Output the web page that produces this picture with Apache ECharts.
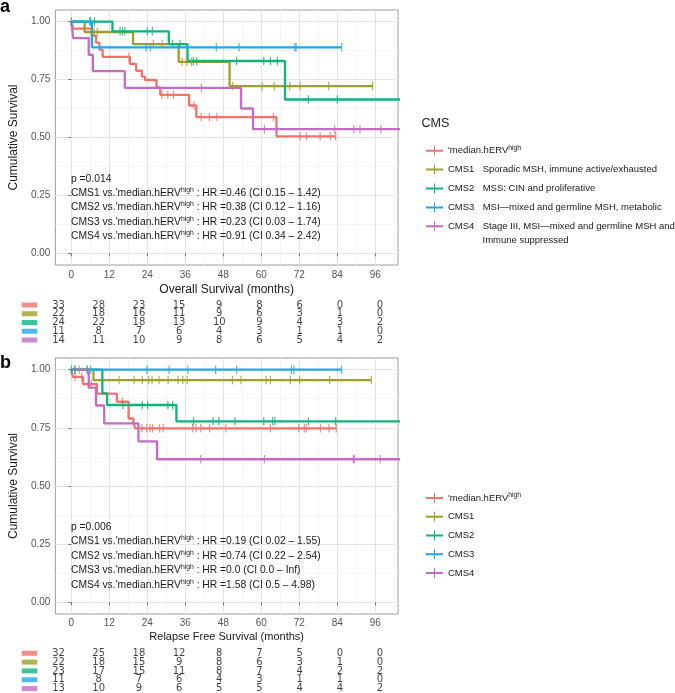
<!DOCTYPE html>
<html><head><meta charset="utf-8">
<script src="https://cdn.jsdelivr.net/npm/echarts@6/dist/echarts.min.js"></script>
<style>html,body{margin:0;padding:0;background:#fff}#c{width:675px;height:693px}</style>
</head><body><div id="c"></div>
<script>
const groups = ['median', 'CMS1', 'CMS2', 'CMS3', 'CMS4'];
const colors = ['#F0736C', '#A0A024', '#10B47A', '#22A8E6', '#C36CC3'];
const descriptions = ['', 'Sporadic MSH, immune active/exhausted', 'MSS: CIN and proliferative',
  'MSI\u2014mixed and germline MSH, metabolic', 'Stage III, MSI\u2014mixed and germline MSH and'];
const xTicks = [0, 12, 24, 36, 48, 60, 72, 84, 96];
const xMinor = [6, 18, 30, 42, 54, 66, 78, 90, 102];
const yTicks = [0, 0.25, 0.5, 0.75, 1];
const yMinor = [0.125, 0.375, 0.625, 0.875];

// Overall survival (a): step times, survival, censor times
const osMedianT = [0, 0.6, 6.5, 7.8, 8.9, 9.9, 18.5, 20.5, 22.3, 23.3, 26.9, 28.1, 37.2, 39.5, 64.8, 83.5];
const osMedianS = [1, 0.970, 0.939, 0.909, 0.879, 0.848, 0.818, 0.788, 0.763, 0.748, 0.716, 0.684, 0.638, 0.588, 0.505, 0.505];
const osMedianC = [18.2, 28.6, 30.5, 32.3, 38.8, 41.0, 43.6, 46.0, 63.8, 72.3, 74.3, 78.6, 81.8, 83.5];
const osCMS1T = [0, 4.2, 19.5, 33.9, 50.0, 95.2];
const osCMS1S = [1, 0.955, 0.903, 0.826, 0.722, 0.722];
const osCMS1C = [6.5, 7.2, 8.2, 25.9, 28.7, 35.0, 36.5, 38.0, 51.0, 60.3, 64.1, 69.0, 72.3, 81.3, 95.2];
const osCMS2T = [0, 13.0, 30.8, 36.7, 67.5, 106];
const osCMS2S = [1, 0.958, 0.903, 0.830, 0.664, 0.664];
const osCMS2C = [0, 7.3, 15.4, 16.1, 16.9, 24.0, 25.6, 32.0, 34.3, 38.6, 39.6, 52.2, 60.8, 62.9, 65.1, 74.9, 84.0];
const osCMS3T = [0, 6.5, 85.4];
const osCMS3S = [1, 0.889, 0.889];
const osCMS3C = [5.8, 6.1, 23.6, 25.0, 45.8, 53.0, 70.6, 71.0, 85.4];
const osCMS4T = [0, 0.6, 5.5, 6.8, 16.9, 53.6, 57.4, 106];
const osCMS4S = [1, 0.929, 0.857, 0.786, 0.714, 0.625, 0.536, 0.536];
const osCMS4C = [41.1, 61.0, 83.2, 89.3, 91.2, 97.8];

// Relapse free survival (b)
const rfsMedianT = [0, 0.5, 3.7, 8.1, 14.4, 18.1, 19.6, 20.2, 83.7];
const rfsMedianS = [1, 0.969, 0.938, 0.897, 0.862, 0.790, 0.772, 0.748, 0.748];
const rfsMedianC = [1.2, 3.3, 6.3, 16.1, 22.3, 23.8, 24.9, 25.7, 27.9, 29.0, 38.3, 39.4, 40.9, 43.7, 48.8, 62.9, 71.8, 73.6, 74.2, 78.7, 81.4, 83.7];
const rfsCMS1T = [0, 7.0, 94.8];
const rfsCMS1S = [1, 0.955, 0.955];
const rfsCMS1C = [2.5, 5.0, 15.1, 19.8, 22.4, 24.4, 25.5, 27.7, 30.6, 33.7, 35.2, 36.6, 50.9, 53.6, 61.5, 62.9, 69.2, 72.1, 81.6, 94.8];
const rfsCMS2T = [0, 9.8, 11.3, 33.2, 106];
const rfsCMS2S = [1, 0.898, 0.848, 0.778, 0.778];
const rfsCMS2C = [0, 1.2, 16.3, 22.4, 24.1, 30.5, 32.0, 38.6, 44.8, 46.6, 51.7, 60.8, 63.6, 64.3, 74.9, 83.5];
const rfsCMS3T = [0, 85.4];
const rfsCMS3S = [1, 1];
const rfsCMS3C = [1.0, 5.0, 6.1, 23.9, 30.9, 36.8, 45.6, 52.2, 69.5, 70.3, 85.4];
const rfsCMS4T = [0, 5.5, 7.8, 10.4, 21.2, 27.1, 106];
const rfsCMS4S = [1, 0.923, 0.846, 0.769, 0.692, 0.615, 0.615];
const rfsCMS4C = [40.9, 61.0, 89.1, 89.4, 97.6];

// Numbers at risk
const osRiskMedian = [33, 28, 23, 15, 9, 8, 6, 0, 0];
const osRiskCMS1 = [22, 18, 16, 11, 9, 6, 3, 1, 0];
const osRiskCMS2 = [24, 22, 18, 13, 10, 9, 4, 3, 2];
const osRiskCMS3 = [11, 8, 7, 6, 4, 3, 1, 1, 0];
const osRiskCMS4 = [14, 11, 10, 9, 8, 6, 5, 4, 2];
const rfsRiskMedian = [32, 25, 18, 12, 8, 7, 5, 0, 0];
const rfsRiskCMS1 = [22, 18, 15, 9, 8, 6, 3, 1, 0];
const rfsRiskCMS2 = [23, 17, 15, 11, 8, 7, 4, 2, 2];
const rfsRiskCMS3 = [11, 8, 7, 6, 4, 3, 1, 1, 0];
const rfsRiskCMS4 = [13, 10, 9, 6, 5, 5, 4, 4, 2];

const osHR = ['p =0.014',
  'CMS1 vs.\'median.hERV{s|high} : HR =0.46 (CI 0.15 \u2013 1.42)',
  'CMS2 vs.\'median.hERV{s|high} : HR =0.38 (CI 0.12 \u2013 1.16)',
  'CMS3 vs.\'median.hERV{s|high} : HR =0.23 (CI 0.03 \u2013 1.74)',
  'CMS4 vs.\'median.hERV{s|high} : HR =0.91 (CI 0.34 \u2013 2.42)'];
const rfsHR = ['p =0.006',
  'CMS1 vs.\'median.hERV{s|high} : HR =0.19 (CI 0.02 \u2013 1.55)',
  'CMS2 vs.\'median.hERV{s|high} : HR =0.74 (CI 0.22 \u2013 2.54)',
  'CMS3 vs.\'median.hERV{s|high} : HR =0.0 (CI 0.0 \u2013 Inf)',
  'CMS4 vs.\'median.hERV{s|high} : HR =1.58 (CI 0.5 \u2013 4.98)'];

const osCurves = [[osMedianT, osMedianS, osMedianC], [osCMS1T, osCMS1S, osCMS1C], [osCMS2T, osCMS2S, osCMS2C], [osCMS3T, osCMS3S, osCMS3C], [osCMS4T, osCMS4S, osCMS4C]];
const rfsCurves = [[rfsMedianT, rfsMedianS, rfsMedianC], [rfsCMS1T, rfsCMS1S, rfsCMS1C], [rfsCMS2T, rfsCMS2S, rfsCMS2C], [rfsCMS3T, rfsCMS3S, rfsCMS3C], [rfsCMS4T, rfsCMS4S, rfsCMS4C]];
const osRisk = [osRiskMedian, osRiskCMS1, osRiskCMS2, osRiskCMS3, osRiskCMS4];
const rfsRisk = [rfsRiskMedian, rfsRiskCMS1, rfsRiskCMS2, rfsRiskCMS3, rfsRiskCMS4];

function survAt(T, S, t) { let v = S[0]; for (let i = 0; i < T.length; i++) { if (T[i] <= t + 1e-9) v = S[i]; } return v; }

const FONT = 'Liberation Sans';
const TXT = '#1a1a1a';
const plotX = { min: -5.04, max: 103.2 };
const tabX = { min: -3.135, max: 101.37 };

function plotAxes(gi, name, nameSize, nameGap, labelMargin) {
  const xs = [{
    type: 'value', gridIndex: gi, min: plotX.min, max: plotX.max,
    axisLine: { show: false },
    axisTick: { show: true, customValues: xTicks, length: 3, lineStyle: { color: '#555', width: 0.8 } },
    axisLabel: { customValues: xTicks, fontSize: 10, color: '#555', fontFamily: FONT, margin: labelMargin },
    splitLine: { show: true, lineStyle: { color: '#e4e4e4', width: 1 } },
    name: name, nameLocation: 'middle', nameGap: nameGap,
    nameTextStyle: { fontSize: nameSize, color: TXT, fontFamily: FONT }
  }, {
    type: 'value', gridIndex: gi, min: plotX.min, max: plotX.max, position: 'bottom',
    axisLine: { show: false }, axisTick: { show: false, customValues: xMinor }, axisLabel: { show: false },
    splitLine: { show: true, lineStyle: { color: '#f3f3f3', width: 0.8 } }
  }];
  const ys = [{
    type: 'value', gridIndex: gi, min: -0.05, max: 1.05,
    axisLine: { show: false },
    axisTick: { show: true, customValues: yTicks, length: 3, lineStyle: { color: '#555', width: 0.8 } },
    axisLabel: { customValues: yTicks, fontSize: 10, color: '#555', fontFamily: FONT, margin: 5, formatter: v => v.toFixed(2) },
    splitLine: { show: true, lineStyle: { color: '#e4e4e4', width: 1 } },
    name: 'Cumulative Survival', nameLocation: 'middle', nameGap: 24,
    nameTextStyle: { fontSize: 12, color: TXT, fontFamily: FONT }
  }, {
    type: 'value', gridIndex: gi, min: -0.05, max: 1.05, position: 'left',
    axisLine: { show: false }, axisTick: { show: false, customValues: yMinor }, axisLabel: { show: false },
    splitLine: { show: true, lineStyle: { color: '#f3f3f3', width: 0.8 } }
  }];
  return { xs, ys };
}

const pa = plotAxes(0, 'Overall Survival (months)', 12, 19, 5);
const pb = plotAxes(1, 'Relapse Free Survival (months)', 11, 17, 4);
const rows = ['r0', 'r1', 'r2', 'r3', 'r4'];
const hiddenVal = gi => ({ type: 'value', gridIndex: gi, min: tabX.min, max: tabX.max, show: false });
const hiddenCatY = gi => ({ type: 'category', gridIndex: gi, data: rows, inverse: true, show: false });
const hiddenCatX = gi => ({ type: 'category', gridIndex: gi, data: ['k'], show: false });

const series = [];
function addCurves(curves, xi, yi) {
  curves.forEach((c, g) => {
    series.push({
      type: 'line', name: groups[g], xAxisIndex: xi, yAxisIndex: yi, step: 'end',
      data: c[0].map((t, i) => [t, c[1][i]]), showSymbol: false, symbol: 'none',
      lineStyle: { width: 2.3, color: colors[g] }, itemStyle: { color: colors[g] },
      z: 2 + g, silent: true
    });
  });
  curves.forEach((c, g) => {
    series.push({
      type: 'scatter', name: groups[g], xAxisIndex: xi, yAxisIndex: yi,
      symbol: 'rect', symbolSize: [1.2, 8.5],
      data: c[2].map(t => [t, survAt(c[0], c[1], t)]),
      itemStyle: { color: colors[g] }, z: 10, silent: true
    });
  });
}
addCurves(osCurves, 0, 0);
addCurves(rfsCurves, 2, 2);

function addTable(risk, xi, yi, kxi, kyi) {
  const data = [];
  risk.forEach((r, i) => r.forEach((v, j) => data.push([xTicks[j], i, v])));
  series.push({
    type: 'scatter', xAxisIndex: xi, yAxisIndex: yi, symbolSize: 1, data: data,
    itemStyle: { color: 'rgba(0,0,0,0)' }, silent: true,
    label: { show: true, position: 'inside', formatter: p => String(p.value[2]), color: '#111', fontSize: 10, fontFamily: 'DejaVu Sans' }
  });
  series.push({
    type: 'scatter', xAxisIndex: kxi, yAxisIndex: kyi, symbol: 'rect', symbolSize: [15.5, 5], silent: true,
    data: groups.map((g, i) => ({ value: ['k', i], itemStyle: { color: colors[i] } }))
  });
}
addTable(osRisk, 4, 4, 6, 6);
addTable(rfsRisk, 5, 5, 7, 7);

const LFS = 9.5;
const plusIcon = 'path://M0,4 L17,4 L17,6 L0,6 Z M8,0 L9,0 L9,10 L8,10 Z';
const richLegend = {
  m: { fontSize: LFS, fontFamily: FONT, color: TXT, lineHeight: 12 },
  s: { fontSize: 6.8, fontFamily: FONT, color: TXT, lineHeight: 7, verticalAlign: 'top' },
  c: { fontSize: LFS, fontFamily: FONT, color: TXT, width: 34.7, lineHeight: 12 },
  d: { fontSize: LFS, fontFamily: FONT, color: TXT, lineHeight: 12 }
};
function legendName(name, withDesc) {
  if (name === 'median') return "{m|'median.hERV}{s|high}";
  const i = groups.indexOf(name);
  return withDesc ? '{c|' + name + '}{d|' + descriptions[i] + '}' : '{m|' + name + '}';
}

const graphic = [];
function hrText(lines, ys) {
  lines.forEach((t, i) => graphic.push({
    type: 'text', x: 71, y: ys[i], silent: true, z: 100,
    style: {
      text: t, fontSize: 10.3, fontFamily: FONT, fill: TXT, verticalAlign: 'middle', lineHeight: 13,
      rich: { s: { fontSize: 6.8, fontFamily: FONT, fill: TXT, lineHeight: 7, verticalAlign: 'top' } }
    }
  }));
}
hrText(osHR, [179, 193, 207.5, 222, 236.5]);
hrText(rfsHR, [526.7, 541, 555.7, 570, 585]);
graphic.push({ type: 'text', x: 0, y: 7, z: 100, style: { text: 'a', fontSize: 18, fontWeight: 'bold', fontFamily: FONT, fill: '#000', verticalAlign: 'middle' } });
graphic.push({ type: 'text', x: 0, y: 363.5, z: 100, style: { text: 'b', fontSize: 18, fontWeight: 'bold', fontFamily: FONT, fill: '#000', verticalAlign: 'middle' } });
graphic.push({ type: 'text', x: 421.5, y: 124, z: 100, style: { text: 'CMS', fontSize: 12.5, fontFamily: FONT, fill: TXT, verticalAlign: 'middle' } });
graphic.push({ type: 'text', x: 482.5, y: 240.5, z: 100, style: { text: 'Immune suppressed', fontSize: LFS, fontFamily: FONT, fill: TXT, verticalAlign: 'middle' } });

const option = {
  animation: false,
  backgroundColor: '#fff',
  grid: [
    { left: 48, top: 10, width: 350, height: 255, show: true, borderColor: '#9c9c9c', borderWidth: 1, backgroundColor: '#fff' },
    { left: 48, top: 358, width: 350, height: 256, show: true, borderColor: '#9c9c9c', borderWidth: 1, backgroundColor: '#fff' },
    { left: 48, top: 300.6, width: 350, height: 43.75 },
    { left: 48, top: 648.85, width: 350, height: 44.5 },
    { left: 21, top: 300.6, width: 17, height: 43.75 },
    { left: 21, top: 648.85, width: 17, height: 44.5 }
  ],
  xAxis: [pa.xs[0], pa.xs[1], pb.xs[0], pb.xs[1], hiddenVal(2), hiddenVal(3), hiddenCatX(4), hiddenCatX(5)],
  yAxis: [pa.ys[0], pa.ys[1], pb.ys[0], pb.ys[1], hiddenCatY(2), hiddenCatY(3), hiddenCatY(4), hiddenCatY(5)],
  legend: [
    { data: groups, orient: 'vertical', left: 421, top: 139.7, itemWidth: 17, itemHeight: 10, itemGap: 8.9,
      icon: plusIcon, selectedMode: false, formatter: n => legendName(n, true),
      itemStyle: { borderWidth: 0 }, lineStyle: { width: 0 },
      textStyle: { fontSize: LFS, fontFamily: FONT, color: TXT, rich: richLegend } },
    { data: groups, orient: 'vertical', left: 421, top: 487, itemWidth: 17, itemHeight: 10, itemGap: 8.75,
      icon: plusIcon, selectedMode: false, formatter: n => legendName(n, false),
      itemStyle: { borderWidth: 0 }, lineStyle: { width: 0 },
      textStyle: { fontSize: LFS, fontFamily: FONT, color: TXT, rich: richLegend } }
  ],
  graphic: graphic,
  series: series
};
const chart = echarts.init(document.getElementById('c'), null, { renderer: 'canvas' });
chart.setOption(option);
</script></body></html>
